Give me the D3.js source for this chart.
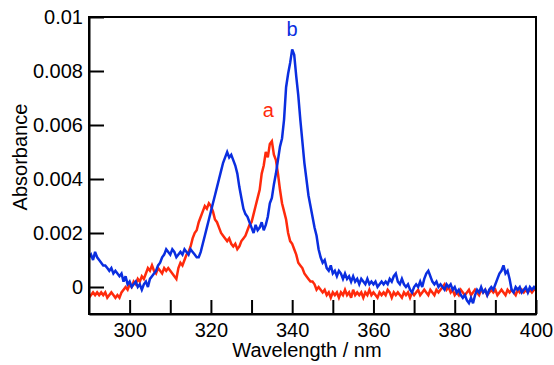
<!DOCTYPE html>
<html>
<head>
<meta charset="utf-8">
<script src="https://cdn.jsdelivr.net/npm/d3@7"></script>
<style>
  html, body { margin: 0; padding: 0; background: #fff; }
  svg { display: block; font-family: "Liberation Sans", Arial, sans-serif; }
</style>
</head>
<body>
<svg id="chart" width="554" height="365"></svg>
<script>
// Wavelength grid (nm), 0.5 nm sampling
const wavelengths = d3.range(290, 400.25, 0.5);

// Absorbance values in units of 1e-4, one per wavelength
const seriesA = [ // red, "a"
  -4,-3,-2,-3,-2,-3,-2,-3,-2,-4, -3,-2,-3,-4,-3,-4,-2,-1,0,-1,
  1,0,2,1,3,2,4,3,5,7, 6,8,6,5,7,6,5,7,6,7,
  6,5,4,3,7,9,8,10,12,13, 15,18,20,21,24,26,28,30,29,31,
  30,28,25,24,22,20,19,18,17,18, 16,15,16,14,15,17,18,19,21,23,
  24,27,30,33,36,42,45,50,48,53, 54,49,47,42,36,31,28,25,20,17,
  16,14,12,9,8,7,5,4,3,2, 2,1,-1,0,-1,-2,-1,-3,-2,-4,
  -2,-3,-2,-4,-2,-3,-1,-3,-2,-4, -1,-3,-2,-3,-2,-4,-2,-3,-1,-3,
  -2,-3,-4,-2,-3,-2,-3,-1,-2,-4, -2,-3,-2,-3,-4,-2,-3,-2,-4,-2,
  -3,-2,-1,-3,-2,-1,-2,-3,-1,-2, -3,-1,-2,-1,0,1,-1,0,-2,-1,
  -3,-2,-3,-1,-2,-3,-2,-1,-3,-2, -1,-2,-3,-1,-2,-1,-3,-2,-1,-2,
  -1,-3,-2,-1,-2,-3,-1,-2,-1,-2, -3,-1,-2,-1,-2,-1,-2,-1,-2,-1,
  -1
];
const seriesB = [ // blue, "b"
  11,12,10,13,11,10,9,8,8,7, 6,7,5,6,5,4,5,2,4,1,
  2,0,1,2,0,1,-1,1,2,0, 3,4,5,6,8,9,11,12,14,13,
  12,14,13,11,12,13,12,14,13,12, 14,13,12,11,11,13,16,19,22,25,
  28,31,34,37,40,43,46,48,50,48, 49,47,45,42,37,33,29,27,26,24,
  22,20,23,21,22,24,21,23,26,31, 33,38,42,47,52,55,62,74,79,83,
  88,86,78,71,62,54,46,40,34,30, 26,22,19,14,11,9,10,7,6,8,
  5,6,4,6,5,3,5,3,4,2, 4,2,3,1,3,2,1,3,1,2,
  1,2,0,1,2,1,2,1,3,2, 4,5,2,1,3,1,0,1,-1,-2,
  0,1,0,2,0,3,5,6,4,2, 1,2,0,1,0,-1,1,0,1,-1,
  0,-2,-1,-3,-4,-3,-5,-6,-4,-6, -3,-1,-2,0,-2,-1,-3,-1,0,-1,
  1,3,5,6,8,5,6,3,-1,-2, 0,-1,0,-2,-1,0,-2,0,-1,0,
  -1
];
const unit = 1e-4;

const seriesNames = ["a", "b"];
const seriesColors = ["#ff2a0c", "#0a2ee0"];
const labelPos = [[334.1, 0.0063], [340.0, 0.0093]];

const xTicks = [300, 310, 320, 330, 340, 350, 360, 370, 380, 390, 400];
const xTickLabels = ["300", "", "320", "", "340", "", "360", "", "380", "", "400"];
const yTicks = [0, 0.002, 0.004, 0.006, 0.008, 0.01];
const yTickLabels = ["0", "0.002", "0.004", "0.006", "0.008", "0.01"];

const svg = d3.select("#chart");
const L = 89, R = 536, T = 17, B = 314;

const x = d3.scaleLinear().domain([290, 400]).range([L, R]);
const y = d3.scaleLinear().domain([-0.001, 0.01]).range([B, T]);

svg.append("defs").append("clipPath").attr("id", "plotclip")
  .append("rect").attr("x", L).attr("y", T).attr("width", R - L).attr("height", B - T);

const line = d3.line().x(d => x(d[0])).y(d => y(d[1]));
const allSeries = [seriesA, seriesB];
allSeries.forEach((s, i) => {
  const pts = wavelengths.map((w, j) => [w, s[j] * unit]).filter(p => !isNaN(p[1]));
  svg.append("path")
    .datum(pts)
    .attr("d", line)
    .attr("fill", "none")
    .attr("stroke", seriesColors[i])
    .attr("stroke-width", 2.5)
    .attr("stroke-linejoin", "miter")
    .attr("stroke-miterlimit", 3)
    .attr("clip-path", "url(#plotclip)");
});

// frame
svg.append("rect")
  .attr("x", L).attr("y", T).attr("width", R - L).attr("height", B - T)
  .attr("fill", "none").attr("stroke", "#000").attr("stroke-width", 2);

const xAxis = d3.axisBottom(x)
  .tickValues(xTicks)
  .tickFormat((d, i) => xTickLabels[i])
  .tickSizeInner(-14).tickSizeOuter(0).tickPadding(9);
const gx = svg.append("g").attr("transform", `translate(0,${B})`).call(xAxis);

const yAxis = d3.axisLeft(y)
  .tickValues(yTicks)
  .tickFormat((d, i) => yTickLabels[i])
  .tickSizeInner(-15).tickSizeOuter(0).tickPadding(6);
const gy = svg.append("g").attr("transform", `translate(${L},0)`).call(yAxis);

[gx, gy].forEach(g => {
  g.select(".domain").attr("stroke", "#000").attr("stroke-width", 2);
  g.selectAll(".tick line").attr("stroke", "#000").attr("stroke-width", 2);
  g.selectAll(".tick text").attr("fill", "#000").style("font-size", "20px")
    .style("font-family", "'Liberation Sans', Arial, sans-serif");
});

svg.append("text")
  .attr("x", 307).attr("y", 357)
  .attr("text-anchor", "middle")
  .style("font-size", "20px")
  .text("Wavelength / nm");

svg.append("text")
  .attr("transform", "translate(27,157) rotate(-90)")
  .attr("text-anchor", "middle")
  .style("font-size", "20px")
  .text("Absorbance");

seriesNames.forEach((n, i) => {
  svg.append("text")
    .attr("x", x(labelPos[i][0])).attr("y", y(labelPos[i][1]))
    .attr("text-anchor", "middle")
    .attr("fill", seriesColors[i])
    .style("font-size", "20px")
    .text(n);
});
</script>
</body>
</html>
